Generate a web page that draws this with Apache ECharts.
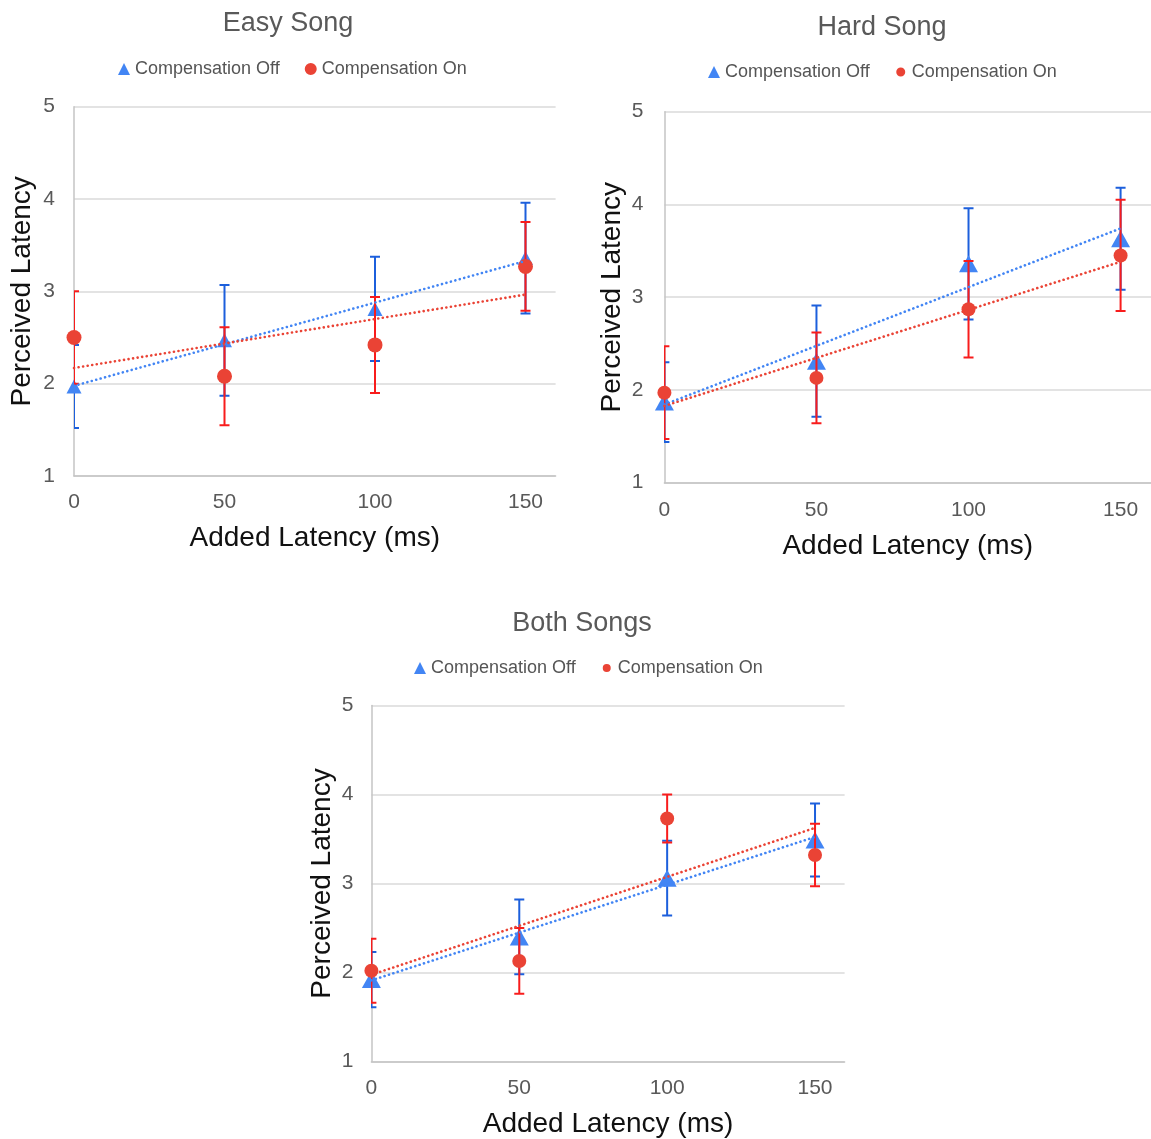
<!DOCTYPE html>
<html>
<head>
<meta charset="utf-8">
<script src="https://cdn.jsdelivr.net/npm/echarts@6/dist/echarts.min.js"></script>
<style>html,body{margin:0;padding:0;background:#fff}#c{width:1151px;height:1139px}</style>
</head>
<body>
<div id="c"></div>
<script>
// ---- data ----
const xValues = [0, 50, 100, 150];
const xTicks = [0, 50, 100, 150];
const yTicks = [1, 2, 3, 4, 5];
const seriesNames = ['Compensation Off', 'Compensation On'];
const panelTitles = ['Easy Song', 'Hard Song', 'Both Songs'];

const easyOff    = [1.97, 2.47, 2.81, 3.36];
const easyOffErr = [0.45, 0.60, 0.565, 0.60];
const easyOn     = [2.50, 2.08, 2.42, 3.27];
const easyOnErr  = [0.50, 0.53, 0.52, 0.48];

const hardOff    = [1.87, 2.31, 3.36, 3.63];
const hardOffErr = [0.43, 0.60, 0.60, 0.55];
const hardOn     = [1.97, 2.13, 2.87, 3.45];
const hardOnErr  = [0.50, 0.49, 0.52, 0.60];

const bothOff    = [1.92, 2.40, 3.06, 3.49];
const bothOffErr = [0.31, 0.42, 0.42, 0.41];
const bothOn     = [2.02, 2.13, 3.73, 3.32];
const bothOnErr  = [0.36, 0.37, 0.27, 0.35];

// ---- styling / layout ----
const FONT = '"Liberation Sans", Arial, Helvetica, sans-serif';
const OFF_COLOR = '#4285F4', ON_COLOR = '#EA4335';
const OFF_ERR = '#1c5fdc', ON_ERR = '#f81c1c';

const panels = [
  { title: panelTitles[0], titleX: 288, titleTop: 10, legendLeft: 118, legendTop: 60,
    grid: { left: 74, top: 106.7, width: 481.6, height: 369.3 },
    xMargin: 16, yMargin: 19, xGap: 48, yGap: 37.5, tri: [15, 14], circ: 15, legCirc: 12,
    off: easyOff, offErr: easyOffErr, on: easyOn, onErr: easyOnErr },
  { title: panelTitles[1], titleX: 882, titleTop: 14, legendLeft: 708, legendTop: 63,
    grid: { left: 664.4, top: 111.7, width: 488.3, height: 371 },
    xMargin: 17, yMargin: 21, xGap: 49.5, yGap: 38, tri: [19, 17], circ: 14, legCirc: 9,
    off: hardOff, offErr: hardOffErr, on: hardOn, onErr: hardOnErr },
  { title: panelTitles[2], titleX: 582, titleTop: 610, legendLeft: 414, legendTop: 659,
    grid: { left: 371.4, top: 705.5, width: 473.2, height: 361.5 },
    xMargin: 16.5, yMargin: 18, xGap: 48.5, yGap: 35.5, tri: [19, 17], circ: 14, legCirc: 8,
    off: bothOff, offErr: bothOffErr, on: bothOn, onErr: bothOnErr }
];

function fit(xs, ys) {
  const n = xs.length;
  const mx = xs.reduce((a, b) => a + b, 0) / n;
  const my = ys.reduce((a, b) => a + b, 0) / n;
  let sxy = 0, sxx = 0;
  for (let i = 0; i < n; i++) { sxy += (xs[i] - mx) * (ys[i] - my); sxx += (xs[i] - mx) * (xs[i] - mx); }
  const m = sxy / sxx;
  const b = my - m * mx;
  return [[xs[0], b + m * xs[0]], [xs[n - 1], b + m * xs[n - 1]]];
}

function errRender(color) {
  return function (params, api) {
    const x = api.value(0), y = api.value(1), e = api.value(2);
    const t = api.coord([x, y + e]);
    const b = api.coord([x, y - e]);
    const hw = 5;
    const st = { stroke: color, lineWidth: 2 };
    return {
      type: 'group',
      children: [
        { type: 'line', shape: { x1: t[0], y1: t[1], x2: b[0], y2: b[1] }, style: st },
        { type: 'line', shape: { x1: t[0] - hw, y1: t[1], x2: t[0] + hw, y2: t[1] }, style: st },
        { type: 'line', shape: { x1: b[0] - hw, y1: b[1], x2: b[0] + hw, y2: b[1] }, style: st }
      ]
    };
  };
}

function circlePath(d) {
  const r = d / 2, c = 6;
  return 'path://M0,0L0.01,0M12,12L12.01,12M' + (c - r) + ',' + c +
    'a' + r + ',' + r + ' 0 1,0 ' + d + ',0a' + r + ',' + r + ' 0 1,0 ' + (-d) + ',0Z';
}

const option = {
  backgroundColor: '#fff',
  animation: false,
  title: [], legend: [], grid: [], xAxis: [], yAxis: [], series: []
};

panels.forEach((p, i) => {
  option.title.push({
    text: p.title, left: p.titleX, top: p.titleTop, textAlign: 'center', padding: 0,
    textStyle: { fontFamily: FONT, fontSize: 27, fontWeight: 'normal', color: '#595959' }
  });
  option.legend.push({
    left: p.legendLeft, top: p.legendTop, padding: 0, itemGap: 25,
    itemWidth: 12, itemHeight: 12, selectedMode: false,
    textStyle: { fontFamily: FONT, fontSize: 18, color: '#555555' },
    data: [
      { name: seriesNames[0], icon: 'triangle', itemStyle: { color: OFF_COLOR } },
      { name: seriesNames[1], icon: circlePath(p.legCirc), itemStyle: { color: ON_COLOR } }
    ]
  });
  option.grid.push(Object.assign({ containLabel: false }, p.grid));
  option.xAxis.push({
    type: 'value', gridIndex: i, min: 0, max: 160, interval: 50,
    name: 'Added Latency (ms)', nameLocation: 'middle', nameGap: p.xGap,
    nameTextStyle: { fontFamily: FONT, fontSize: 28, color: '#111111' },
    axisLine: { show: true, lineStyle: { color: '#c4c4c4', width: 1.5 } },
    axisTick: { show: false },
    splitLine: { show: false },
    axisLabel: {
      fontFamily: FONT, fontSize: 21, color: '#595959', margin: p.xMargin,
      showMaxLabel: false, showMinLabel: true,
      formatter: v => (xTicks.indexOf(v) >= 0 ? String(v) : '')
    }
  });
  option.yAxis.push({
    type: 'value', gridIndex: i, min: yTicks[0], max: yTicks[yTicks.length - 1], interval: 1,
    name: 'Perceived Latency', nameLocation: 'middle', nameGap: p.yGap,
    nameTextStyle: { fontFamily: FONT, fontSize: 28, color: '#111111' },
    axisLine: { show: true, lineStyle: { color: '#c4c4c4', width: 1.5 } },
    axisTick: { show: false },
    splitLine: { show: true, lineStyle: { color: '#dadada', width: 1.5 } },
    axisLabel: { fontFamily: FONT, fontSize: 21, color: '#595959', margin: p.yMargin }
  });

  const offData = xValues.map((x, k) => [x, p.off[k], p.offErr[k]]);
  const onData = xValues.map((x, k) => [x, p.on[k], p.onErr[k]]);

  option.series.push(
    { type: 'custom', name: 'err-off-' + i, xAxisIndex: i, yAxisIndex: i, clip: true, z: 2,
      renderItem: errRender(OFF_ERR), data: offData, silent: true },
    { type: 'scatter', name: seriesNames[0], xAxisIndex: i, yAxisIndex: i, z: 3,
      symbol: 'triangle', symbolSize: p.tri, itemStyle: { color: OFF_COLOR, opacity: 1 },
      emphasis: { disabled: true }, data: xValues.map((x, k) => [x, p.off[k]]) },
    { type: 'custom', name: 'err-on-' + i, xAxisIndex: i, yAxisIndex: i, clip: true, z: 4,
      renderItem: errRender(ON_ERR), data: onData, silent: true },
    { type: 'scatter', name: seriesNames[1], xAxisIndex: i, yAxisIndex: i, z: 5,
      symbol: 'circle', symbolSize: p.circ, itemStyle: { color: ON_COLOR, opacity: 1 },
      emphasis: { disabled: true }, data: xValues.map((x, k) => [x, p.on[k]]) },
    { type: 'line', name: 'trend-off-' + i, xAxisIndex: i, yAxisIndex: i, z: 6,
      showSymbol: false, silent: true, data: fit(xValues, p.off),
      lineStyle: { color: OFF_COLOR, width: 2.6, type: [0.1, 4.5], cap: 'round' } },
    { type: 'line', name: 'trend-on-' + i, xAxisIndex: i, yAxisIndex: i, z: 6,
      showSymbol: false, silent: true, data: fit(xValues, p.on),
      lineStyle: { color: ON_COLOR, width: 2.6, type: [0.1, 4.5], cap: 'round' } }
  );
});

const chart = echarts.init(document.getElementById('c'), null, { renderer: 'canvas' });
chart.setOption(option);
</script>
</body>
</html>
